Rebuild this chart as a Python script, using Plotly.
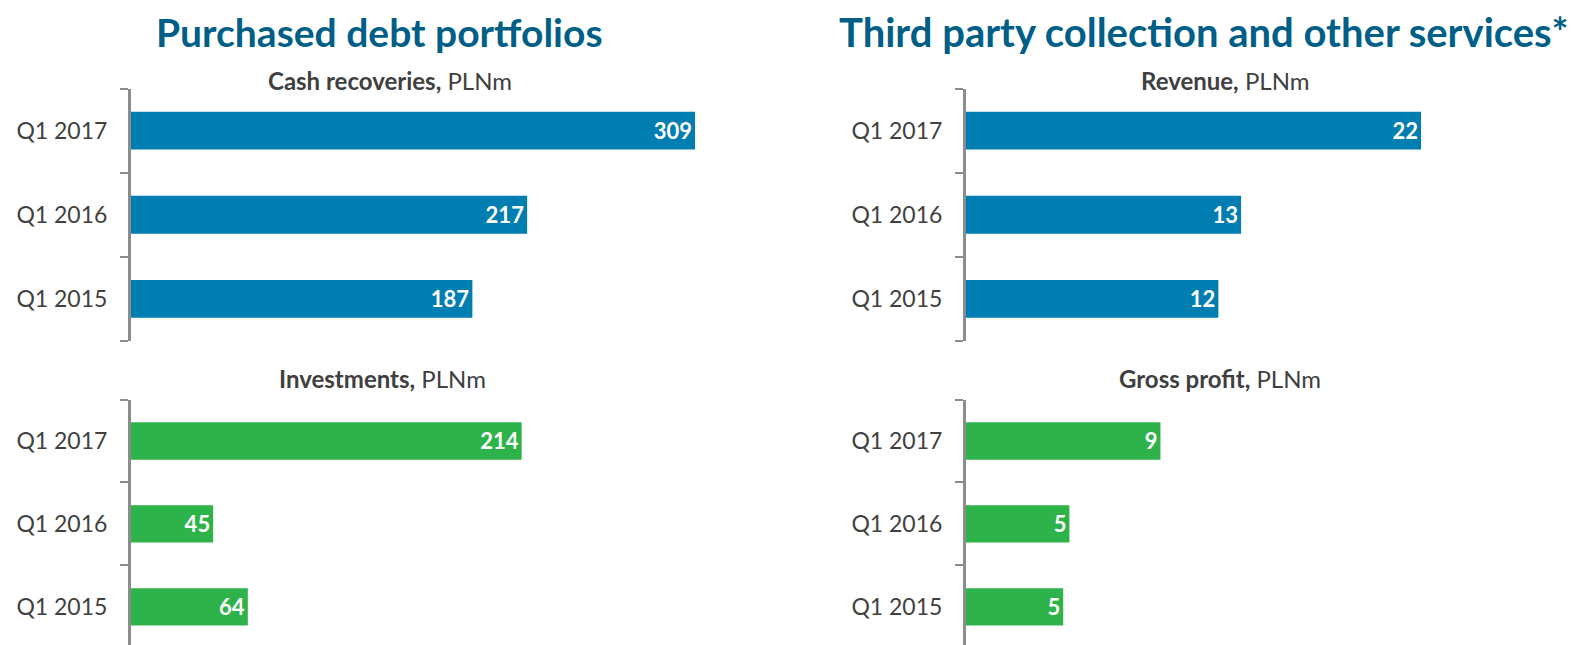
import plotly.graph_objects as go

W, H = 1581, 645

quarters = ["Q1 2015", "Q1 2016", "Q1 2017"]
cash_recoveries = [187, 217, 309]
investments = [64, 45, 214]
revenue = [12.2, 13.3, 22.0]
gross_profit = [4.7, 5.0, 9.4]

main_titles = ["Purchased debt portfolios", "Third party collection and other services*"]
sub_titles = [("Cash recoveries,", " PLNm"), ("Investments,", " PLNm"),
              ("Revenue,", " PLNm"), ("Gross profit,", " PLNm")]

BLUE = "#007DB1"
GREEN = "#2EB34B"
TITLE = "#005F87"
TXT = "#404040"
AX = "#8C8C8C"
FONT = "Lato, 'Open Sans', sans-serif"

def fx(px):
    return px / W

def fy(py):
    return 1 - py / H

fig = go.Figure()

panels = [
    (cash_recoveries, BLUE, "x", "y", (131, 790), (88.5, 341), [0, 361], [-0.5, 2.5]),
    (investments, GREEN, "x2", "y2", (131, 790), (399.5, 645), [0, 361], [-0.46, 2.5]),
    (revenue, BLUE, "x3", "y3", (966, 1570), (88.5, 341), [0, 29.2], [-0.5, 2.5]),
    (gross_profit, GREEN, "x4", "y4", (966, 1570), (399.5, 645), [0, 29.2], [-0.46, 2.5]),
]

layout_axes = {}
for i, (vals, col, xa, ya, xd, yd, xr, yr) in enumerate(panels):
    fig.add_trace(go.Bar(
        x=vals, y=quarters, orientation="h", xaxis=xa, yaxis=ya,
        marker=dict(color=col, line=dict(width=0)),
        text=vals, texttemplate="%{x:.0f}", textposition="inside",
        insidetextanchor="end",
        textfont=dict(family=FONT, size=22, color="white", weight="bold"),
        showlegend=False, hoverinfo="skip",
    ))
    xname = "xaxis" if i == 0 else f"xaxis{i+1}"
    yname = "yaxis" if i == 0 else f"yaxis{i+1}"
    layout_axes[xname] = dict(domain=[fx(xd[0]), fx(xd[1])], range=xr, visible=False,
                              anchor=ya)
    layout_axes[yname] = dict(domain=[fy(yd[1]), fy(yd[0])], range=yr,
                              type="category", categoryorder="array",
                              categoryarray=quarters, anchor=xa,
                              showline=True, linecolor=AX, linewidth=3,
                              ticks="outside", tickson="boundaries", ticklen=8,
                              tickcolor=AX, tickwidth=2, ticklabelstandoff=16,
                              showgrid=False, zeroline=False,
                              tickfont=dict(family=FONT, size=23, color=TXT))

fig.update_layout(**layout_axes)
fig.update_layout(bargap=0.55)

annotations = []
for txt, cx, sz in zip(main_titles, [379, 1204], [39, 40]):
    annotations.append(dict(text=f"<b>{txt}</b>", x=fx(cx), y=fy(32), xref="paper", yref="paper",
                            showarrow=False, xanchor="center", yanchor="middle",
                            font=dict(family=FONT, size=sz, color=TITLE)))
for (b, r), (cx, cy) in zip(sub_titles, [(390, 80), (382, 378), (1225, 80), (1220, 378)]):
    annotations.append(dict(text=f"<b>{b}</b>{r}", x=fx(cx), y=fy(cy), xref="paper", yref="paper",
                            showarrow=False, xanchor="center", yanchor="middle",
                            font=dict(family=FONT, size=24, color=TXT)))

fig.update_layout(
    width=W, height=H, margin=dict(l=0, r=0, t=0, b=0),
    paper_bgcolor="white", plot_bgcolor="white",
    annotations=annotations,
)

fig.write_html("out.html", config={"displayModeBar": False},
               post_script="document.body.style.margin='0';document.body.style.overflow='hidden';")
